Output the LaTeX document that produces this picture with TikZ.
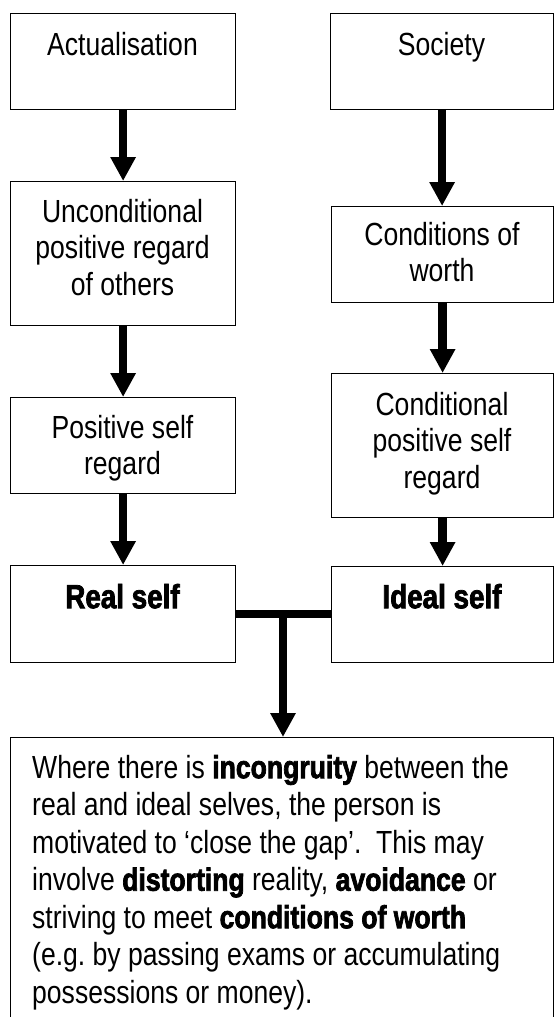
\documentclass[tikz,border=0pt]{standalone}
\usepackage{fontspec}
\setmainfont{Liberation Sans}[FakeStretch=0.83, BoldFeatures={FakeBold=2.2}]
\usetikzlibrary{arrows.meta}
\newcommand{\fstrut}{\rule{0pt}{30pt}}
\frenchspacing
\begin{document}
\begin{tikzpicture}[x=1pt,y=-1pt,
  box/.style={draw=black, line width=1.2pt, rectangle, inner sep=0pt, anchor=north west},
  txt/.style={anchor=north, inner sep=0pt, align=center, font=\fontsize{32}{36.5}\selectfont},
  bigtxt/.style={anchor=north, inner sep=0pt, align=center, font=\fontsize{33.5}{36.5}\selectfont\bfseries},
  restxt/.style={anchor=north west, inner sep=0pt, align=left, font=\fontsize{32}{37.5}\selectfont},
  arr/.style={line width=8.5pt, -{Triangle[length=24pt,width=24pt]}},
  bar/.style={line width=8.5pt}]
\useasboundingbox (0,0) rectangle (554,1017);
\fill[white] (0,0) rectangle (554,1017);
\clip (0,0) rectangle (554,1017);
% boxes
\node[box, minimum width=225pt, minimum height=96pt] (act) at (10,13) {};
\node[box, minimum width=223pt, minimum height=96pt] (soc) at (330,13) {};
\node[box, minimum width=225pt, minimum height=144pt] (unc) at (10,181) {};
\node[box, minimum width=225pt, minimum height=96pt] (pos) at (10,397) {};
\node[box, minimum width=225pt, minimum height=97pt] (real) at (10,565) {};
\node[box, minimum width=222pt, minimum height=96pt] (cond) at (331,206) {};
\node[box, minimum width=222pt, minimum height=144pt] (ccond) at (331,373) {};
\node[box, minimum width=222pt, minimum height=96pt] (ideal) at (331,566) {};
\node[box, minimum width=543pt, minimum height=330pt] (res) at (10,737) {};
% texts
\node[txt] (tact) at (122.5,25) {\fstrut Actualisation};
\node[txt] (tsoc) at (441.5,25) {\fstrut Society};
\node[txt] (tunc) at (122.5,192) {\fstrut Unconditional\\positive regard\\of others};
\node[txt] (tpos) at (122.5,408) {\fstrut Positive self\\regard};
\node[bigtxt] (treal) at (122.5,578) {\fstrut Real self};
\node[txt] (tcond) at (442,215) {\fstrut Conditions of\\worth};
\node[txt] (tccond) at (442,385) {\fstrut Conditional\\positive self\\regard};
\node[bigtxt] (tideal) at (442,578) {\fstrut Ideal self};
\node[restxt] (tres) at (32,748) {\fstrut Where there is \textbf{incongruity} between the\\
real and ideal selves, the person is\\
motivated to ‘close the gap’.\ \ This may\\
involve \textbf{distorting} reality, \textbf{avoidance} or\\
striving to meet \textbf{conditions of worth}\\
(e.g. by passing exams or accumulating\\
possessions or money).};
% connectors
\draw[arr] (act.south) -- (unc.north);
\draw[arr] (unc.south) -- (pos.north);
\draw[arr] (pos.south) -- (real.north);
\draw[arr] (soc.south) -- (soc.south |- cond.north);
\draw[arr] (cond.south) -- (ccond.north);
\draw[arr] (ccond.south) -- (ideal.north);
\draw[bar] (real.east) -- (real.east -| ideal.west);
\coordinate (tj) at (283,613.5);
\draw[arr] (tj) -- (tj |- res.north);
\end{tikzpicture}
\end{document}
